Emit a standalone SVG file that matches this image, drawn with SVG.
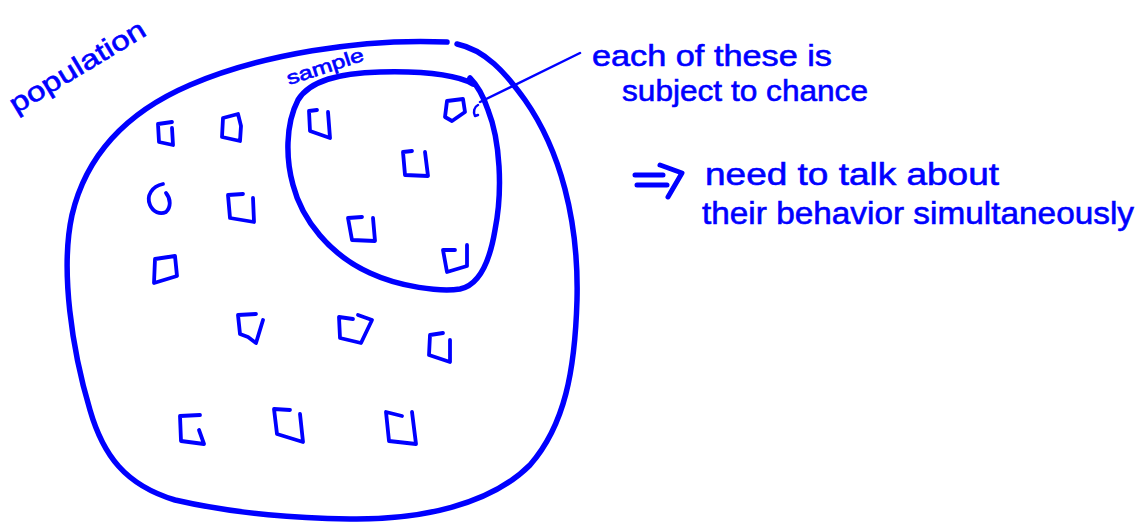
<svg xmlns="http://www.w3.org/2000/svg" width="1139" height="525" viewBox="0 0 1139 525">
<style>
.ink{fill:none;stroke:#0000ff;stroke-linecap:round;stroke-linejoin:round}
.big{stroke-width:5.5}
.sq{stroke-width:3.8}
.hw{font-family:"Liberation Sans",Arial,sans-serif;fill:#0000ff;stroke:#0000ff;stroke-width:0.6}
</style>
<rect width="1139" height="525" fill="#ffffff"/>
<g id="population">
<path class="ink big" d="M447,42 C360,38 260,55 190,85 C120,115 85,160 72,215 C60,270 72,350 90,410 C103,455 125,485 175,500 C240,515 300,518 350,519 C420,520 490,505 530,465 C565,425 575,370 577,300 C579,220 560,150 525,100 C505,72 485,50 457,44"/>
<text class="hw" font-size="27" transform="translate(16,114) rotate(-31)" textLength="154" lengthAdjust="spacingAndGlyphs">population</text>
</g>
<g id="sample">
<path class="ink big" d="M473,84 C455,74 420,71 380,72 C340,73 310,80 298,100 C285,125 286,160 293,185 C302,220 330,255 370,273 C400,287 440,292 460,289 C480,285 490,260 495,230 C503,190 500,140 488,110 C483,95 477,85 470,78"/>
<text class="hw" font-size="19" transform="translate(289,85) rotate(-18)" textLength="80" lengthAdjust="spacingAndGlyphs">sample</text>
</g>
<g id="items">
<path class="ink sq" d="M172,122 L158,124 L159,142 L173,145 L172,128"/>
<path class="ink sq" d="M238,114 L223,118 L222,137 L240,141 L241,126 Z"/>
<path class="ink sq" d="M163,184 C152,186 146,196 150,205 C153,212 160,215 166,212 C171,207 171,199 166,193"/>
<path class="ink sq" d="M243,194 L228,195 L230,218 L254,222 L253,198"/>
<path class="ink sq" d="M175,256 L155,259 L154,283 L177,276 Z"/>
<path class="ink sq" d="M256,314 L238,315 L240,334 L248,337 L256,343 L263,320"/>
<path class="ink sq" d="M353,319 L339,317 L340,338 L361,343 L372,320 L358,315"/>
<path class="ink sq" d="M443,333 L430,335 L429,355 L450,362 L450,340"/>
<path class="ink sq" d="M200,415 L180,416 L181,441 L204,444 L199,430"/>
<path class="ink sq" d="M290,410 L274,409 L277,434 L303,442 L300,414"/>
<path class="ink sq" d="M402,416 L386,412 L389,441 L416,444 L412,412"/>
<path class="ink sq" d="M317,110 L309,111 L310,131 L330,138 L328,112"/>
<path class="ink sq" d="M447,101 L463,99 L465,112 L452,121 L445,117 Z"/>
<path class="ink" stroke-width="2.5" d="M478,105 C474,107 473,112 475,116 L478,115"/>
<path class="ink sq" d="M412,151 L403,152 L405,175 L428,176 L425,152"/>
<path class="ink sq" d="M362,217 L348,218 L352,240 L375,241 L373,218"/>
<path class="ink sq" d="M455,250 L443,250 L447,272 L467,266 L467,245"/>
</g>
<g id="connectors">
<path class="ink" stroke-width="2.5" d="M480,102 L580,53"/>
<path class="ink" stroke-width="5" d="M635,175 L663,175 M637,185 L667,185 M660,165 L682,173 L668,197"/>
</g>
<g id="note-chance">
<text class="hw" font-size="30" x="592" y="66" textLength="240" lengthAdjust="spacingAndGlyphs">each of these is</text>
<text class="hw" font-size="30" x="622" y="101" textLength="246" lengthAdjust="spacingAndGlyphs">subject to chance</text>
</g>
<g id="note-simultaneous">
<text class="hw" font-size="32" x="705" y="185" textLength="294" lengthAdjust="spacingAndGlyphs">need to talk about</text>
<text class="hw" font-size="32" x="702" y="224" textLength="432" lengthAdjust="spacingAndGlyphs">their behavior simultaneously</text>
</g>
</svg>
